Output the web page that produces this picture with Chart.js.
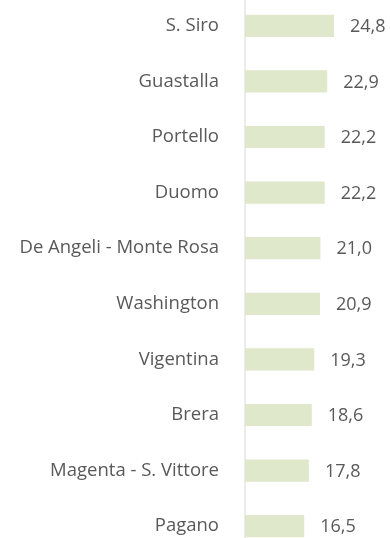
<!DOCTYPE html>
<html>
<head>
<meta charset="utf-8">
<script src="https://cdn.jsdelivr.net/npm/chart.js@4/dist/chart.umd.min.js"></script>
<style>
  html, body { margin: 0; padding: 0; background: #fff; overflow: hidden; }
  #wrap { position: absolute; left: 0; top: -2px; width: 390px; height: 556px; }
</style>
</head>
<body>
<div id="wrap"><canvas id="quartieri" width="390" height="556"></canvas></div>
<script>
const quartieri = ["S. Siro", "Guastalla", "Portello", "Duomo", "De Angeli - Monte Rosa",
  "Washington", "Vigentina", "Brera", "Magenta - S. Vittore", "Pagano"];
const valori = [24.8, 22.9, 22.2, 22.2, 21.0, 20.9, 19.3, 18.6, 17.8, 16.5];

const fontFamily = "'Open Sans', 'Liberation Sans', sans-serif";
const grigio = "#595959";

// numbers next to the bars, with a decimal comma
const etichette = {
  id: "etichette",
  afterDatasetsDraw(chart) {
    const ctx = chart.ctx;
    const meta = chart.getDatasetMeta(0);
    ctx.save();
    ctx.font = "18px " + fontFamily;
    ctx.fillStyle = grigio;
    ctx.textAlign = "left";
    ctx.textBaseline = "middle";
    meta.data.forEach(function(bar, i) {
      ctx.fillText(valori[i].toFixed(1).replace(".", ","), bar.x + 16, bar.y + 1);
    });
    ctx.restore();
  }
};

var ctx = document.getElementById("quartieri").getContext("2d");
var grafico = new Chart(ctx, {
  type: "bar",
  data: {
    labels: quartieri,
    datasets: [{
      data: valori,
      backgroundColor: "#dfe8cb",
      borderWidth: 0,
      categoryPercentage: 1,
      barPercentage: 0.4
    }]
  },
  options: {
    indexAxis: "y",
    responsive: false,
    animation: false,
    devicePixelRatio: 1,
    layout: { padding: { left: 0, right: 1.4, top: 0, bottom: 0 } },
    plugins: {
      legend: { display: false },
      tooltip: { enabled: false }
    },
    scales: {
      x: { display: false, min: 0, max: 40 },
      y: {
        afterFit: function(scale) {
          scale.width = 245;
          // tick padding is meant to be horizontal only
          scale.paddingTop = 0;
          scale.paddingBottom = 0;
        },
        grid: { display: true, color: "rgba(0,0,0,0)", drawTicks: false },
        border: { display: true, color: "#ececec", width: 2 },
        ticks: {
          padding: 26,
          color: grigio,
          font: { family: fontFamily, size: 18.5 }
        }
      }
    }
  },
  plugins: [etichette]
});
</script>
</body>
</html>
